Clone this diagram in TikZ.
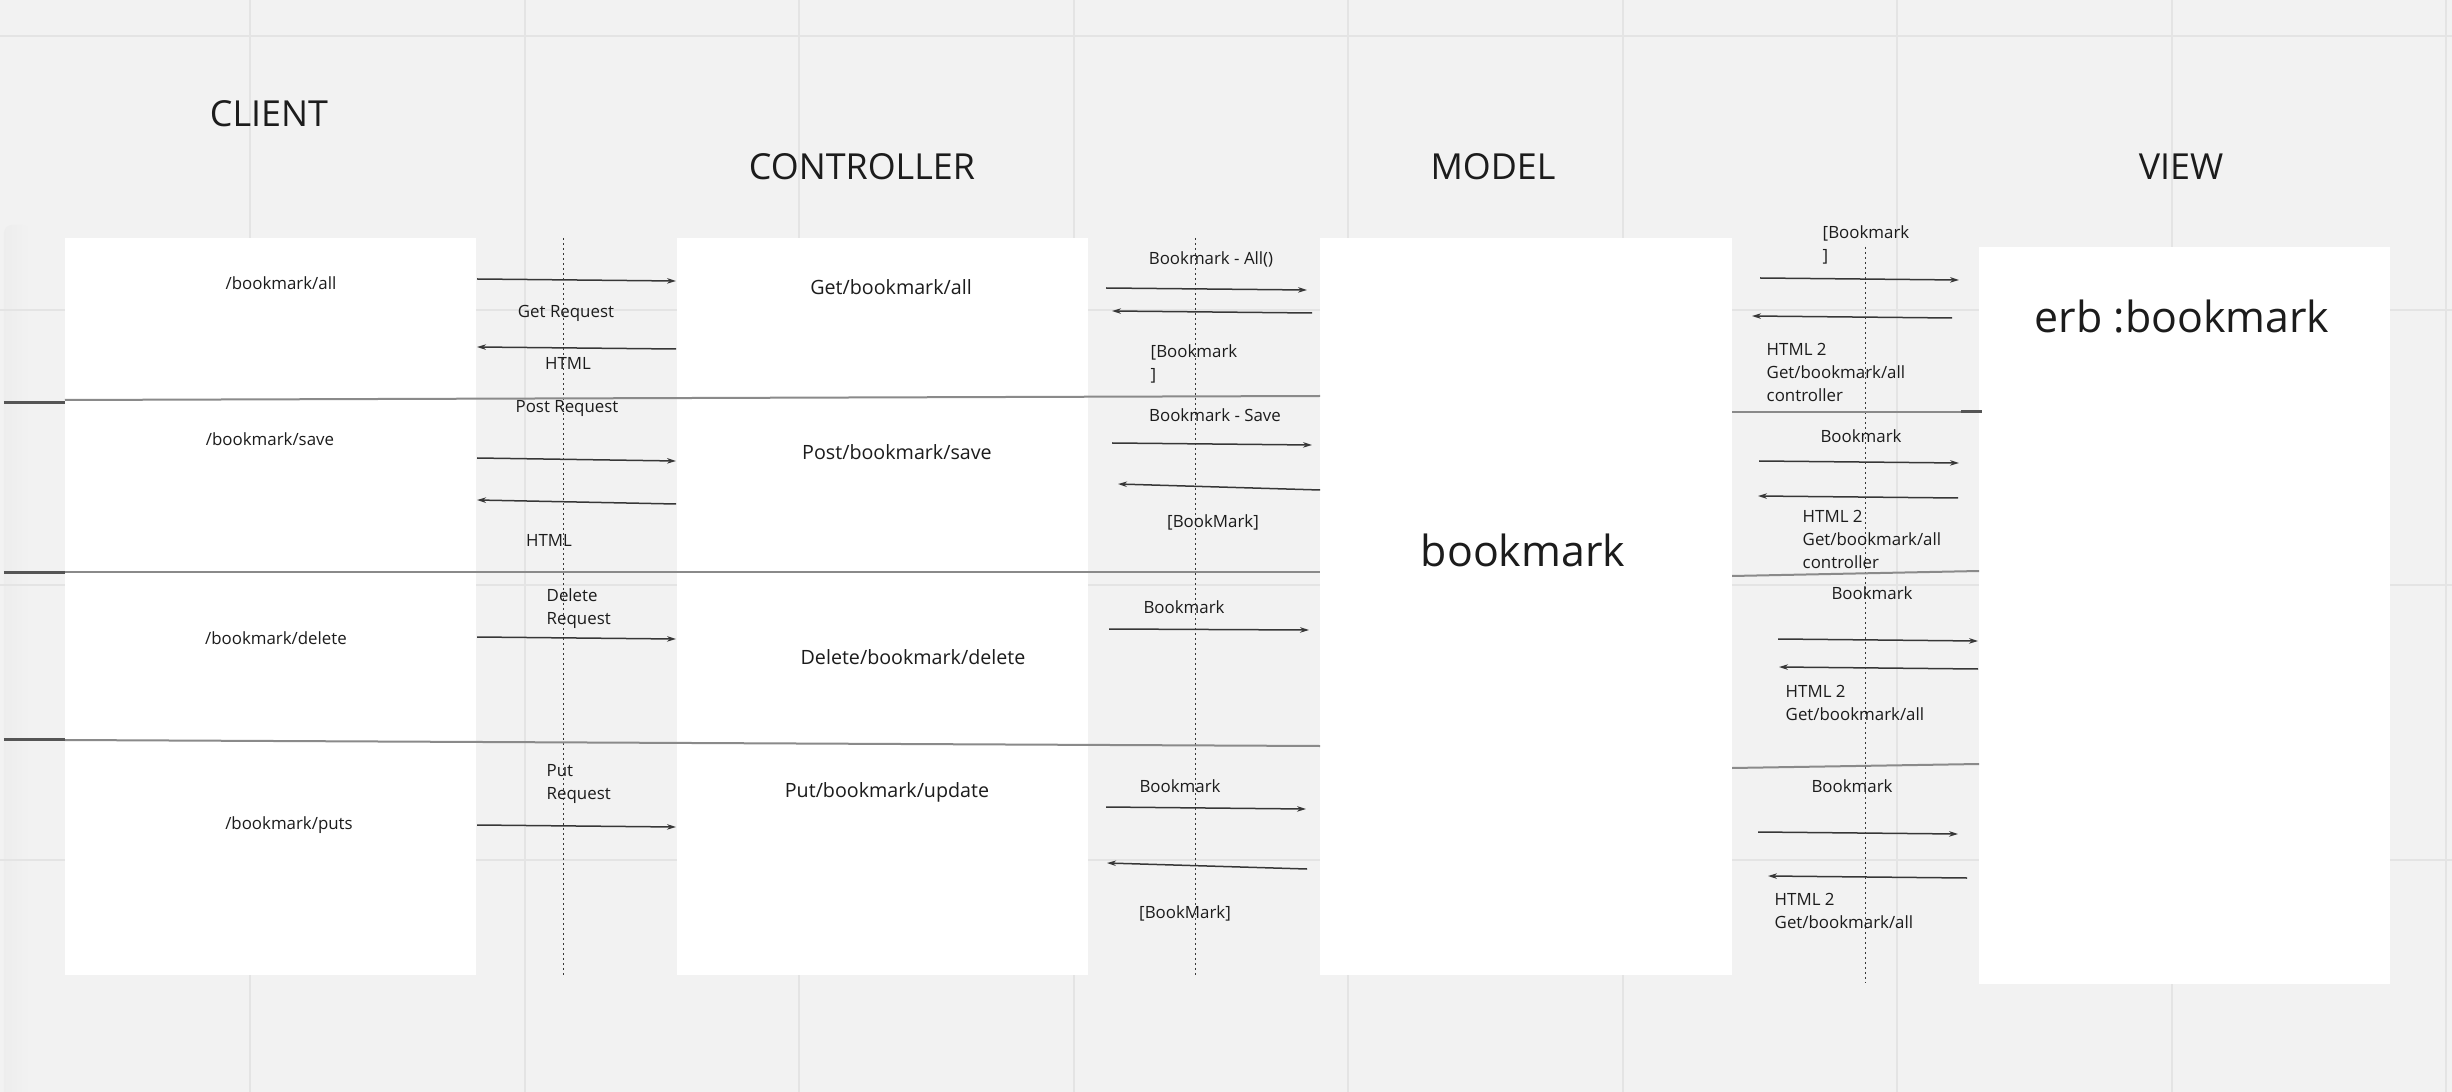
\documentclass[tikz,border=0pt]{standalone}
\usepackage{fontspec}
\setmainfont{Open Sans}
\usetikzlibrary{arrows.meta}
\definecolor{boardgray}{RGB}{242,242,242}
\definecolor{gridgray}{RGB}{228,228,228}
\definecolor{linegray}{RGB}{138,138,138}
\definecolor{edgegray}{RGB}{85,85,85}
\definecolor{inkdark}{RGB}{28,28,28}
\definecolor{wiregray}{RGB}{55,55,55}

\begin{document}
\begin{tikzpicture}[x=1cm, y=-1cm, >=Stealth,
    lanebox/.style={fill=white},
    msg/.style={draw=wiregray, line width=0.15mm, -{Stealth[length=0.9mm, width=0.55mm]}},
    lifeline/.style={draw=wiregray, line width=0.1mm, dash pattern=on 0.25mm off 0.25mm},
    divider/.style={draw=linegray, line width=0.2mm},
    heading/.style={font=\fontsize{10.2}{12}\selectfont, text=inkdark, inner sep=0pt, anchor=base},
    routetext/.style={font=\fontsize{5.6}{7}\selectfont, text=inkdark, inner sep=0pt, anchor=base},
    msgtext/.style={font=\fontsize{4.8}{6.45}\selectfont, text=inkdark, inner sep=0pt, align=left},
    bigtext/.style={font=\fontsize{12.2}{14}\selectfont, text=inkdark, inner sep=0pt, anchor=base}]

    \useasboundingbox (0,0) rectangle (24.52,10.92);

    % Board
    \fill[boardgray] (0,0) rectangle (24.52,10.92);
    \shade[left color=black!7, right color=boardgray, rounded corners=0.08cm] (0.04,11.2) rectangle (0.3,2.25);

    % Grid
    \foreach \i in {0,...,8} {
        \draw[gridgray, line width=0.2mm] ({2.5+2.745*\i},0) -- ({2.5+2.745*\i},10.92);
    }
    \foreach \gy in {0.36,3.105,5.85,8.595} {
        \draw[gridgray, line width=0.2mm] (0,\gy) -- (24.52,\gy);
    }

    % Lanes
    \fill[lanebox] (0.65,2.38) rectangle (4.76,9.75);
    \fill[lanebox] (6.77,2.38) rectangle (10.88,9.75);
    \fill[lanebox] (13.20,2.38) rectangle (17.32,9.75);
    \fill[lanebox] (19.79,2.47) rectangle (23.90,9.84);

    % Lifelines
    \draw[lifeline] (5.63,2.38) -- (5.63,9.75);
    \draw[lifeline] (11.95,2.38) -- (11.95,9.75);
    \draw[lifeline] (18.65,2.47) -- (18.65,9.83);

    % Headings
    \node[heading] (client) at (2.69,1.27) {CLIENT};
    \node[heading] (controller) at (8.62,1.80) {CONTROLLER};
    \node[heading] (model) at (14.93,1.80) {MODEL};
    \node[heading] (view) at (21.81,1.80) {VIEW};

    % Client routes
    \node[msgtext, anchor=base] (pathall) at (2.81,2.90) {/bookmark/all};
    \node[msgtext, anchor=base] (pathsave) at (2.70,4.46) {/bookmark/save};
    \node[msgtext, anchor=base] (pathdelete) at (2.76,6.44) {/bookmark/delete};
    \node[msgtext, anchor=base] (pathputs) at (2.89,8.29) {/bookmark/puts};

    % Controller routes
    \node[routetext] (getall) at (8.91,2.95) {Get/bookmark/all};
    \node[routetext] (postsave) at (8.97,4.60) {Post/bookmark/save};
    \node[routetext] (deldelete) at (9.13,6.64) {Delete/bookmark/delete};
    \node[routetext] (putupdate) at (8.87,7.97) {Put/bookmark/update};

    % Model and view
    \node[bigtext] (modelname) at (15.23,5.67) {bookmark};
    \node[bigtext] (viewname) at (21.82,3.33) {erb :bookmark};

    % Dividers
    \draw[divider] (0.65,4.00) -- (13.20,3.96);
    \draw[divider] (0.65,5.72) -- (13.20,5.72);
    \draw[divider] (0.65,7.40) -- (13.20,7.46);
    \draw[edgegray, line width=0.3mm] (0.04,4.03) -- (0.65,4.03);
    \draw[edgegray, line width=0.3mm] (0.04,5.72) -- (0.65,5.72);
    \draw[edgegray, line width=0.3mm] (0.04,7.39) -- (0.65,7.39);
    \draw[divider] (17.32,4.12) -- (19.82,4.12);
    \draw[edgegray, line width=0.3mm] (19.61,4.12) -- (19.82,4.12);
    \draw[divider] (17.32,5.76) -- (19.79,5.71);
    \draw[divider] (17.32,7.68) -- (19.79,7.64);

    % Messages
    \foreach \n/\xa/\ya/\xb/\yb in {
        1/4.77/2.79/6.76/2.81, 2/6.76/3.49/4.77/3.47, 3/4.77/4.58/6.76/4.61,
        4/6.76/5.04/4.77/5.00, 5/4.77/6.37/6.76/6.39, 6/4.77/8.25/6.76/8.27,
        7/11.06/2.88/13.07/2.90, 8/13.12/3.13/11.12/3.11, 9/11.12/4.43/13.12/4.45,
        10/13.20/4.90/11.18/4.84, 11/11.09/6.29/13.09/6.30, 12/11.06/8.07/13.06/8.09,
        13/13.07/8.69/11.07/8.63, 14/17.60/2.78/19.59/2.80, 15/19.52/3.18/17.52/3.16,
        16/17.59/4.61/19.59/4.63, 17/19.58/4.98/17.58/4.96, 18/17.78/6.39/19.78/6.41,
        19/19.78/6.69/17.79/6.67, 20/17.58/8.32/19.58/8.34, 21/19.67/8.78/17.68/8.76} {
        \coordinate (s\n) at (\xa,\ya);
        \coordinate (e\n) at (\xb,\yb);
        \draw[msg] (s\n) -- (e\n);
    }

    % Message labels
    \node[msgtext, anchor=base] (getreq) at (5.66,3.18) {Get Request};
    \node[msgtext, anchor=base] (html1) at (5.68,3.70) {HTML};
    \node[msgtext, anchor=base] (postreq) at (5.67,4.13) {Post Request};
    \node[msgtext, anchor=base] (html2) at (5.49,5.46) {HTML};
    \node[msgtext, anchor=north west] (delreq) at (5.46,5.88) {Delete\\Request};
    \node[msgtext, anchor=north west] (putreq) at (5.46,7.64) {Put\\Request};

    \node[msgtext, anchor=base] (findall) at (12.11,2.65) {Bookmark - All()};
    \node[msgtext, anchor=north west] (listback) at (11.50,3.44) {[Bookmark\\]};
    \node[msgtext, anchor=base] (saveone) at (12.15,4.22) {Bookmark - Save};
    \node[msgtext, anchor=base] (saveback) at (12.13,5.27) {[BookMark]};
    \node[msgtext, anchor=base] (delone) at (11.84,6.13) {Bookmark};
    \node[msgtext, anchor=base] (putone) at (11.80,7.92) {Bookmark};
    \node[msgtext, anchor=base] (putback) at (11.85,9.18) {[BookMark]};

    \node[msgtext, anchor=north west] (listview) at (18.22,2.25) {[Bookmark\\]};
    \node[msgtext, anchor=north west] (viewback1) at (17.66,3.43) {HTML 2\\Get/bookmark/all\\controller};
    \node[msgtext, anchor=base] (saveview) at (18.61,4.43) {Bookmark};
    \node[msgtext, anchor=north west] (viewback2) at (18.02,5.10) {HTML 2\\Get/bookmark/all\\controller};
    \node[msgtext, anchor=base] (delview) at (18.72,5.99) {Bookmark};
    \node[msgtext, anchor=north west] (viewback3) at (17.85,6.85) {HTML 2\\Get/bookmark/all};
    \node[msgtext, anchor=base] (putview) at (18.52,7.92) {Bookmark};
    \node[msgtext, anchor=north west] (viewback4) at (17.74,8.93) {HTML 2\\Get/bookmark/all};
\end{tikzpicture}
\end{document}
